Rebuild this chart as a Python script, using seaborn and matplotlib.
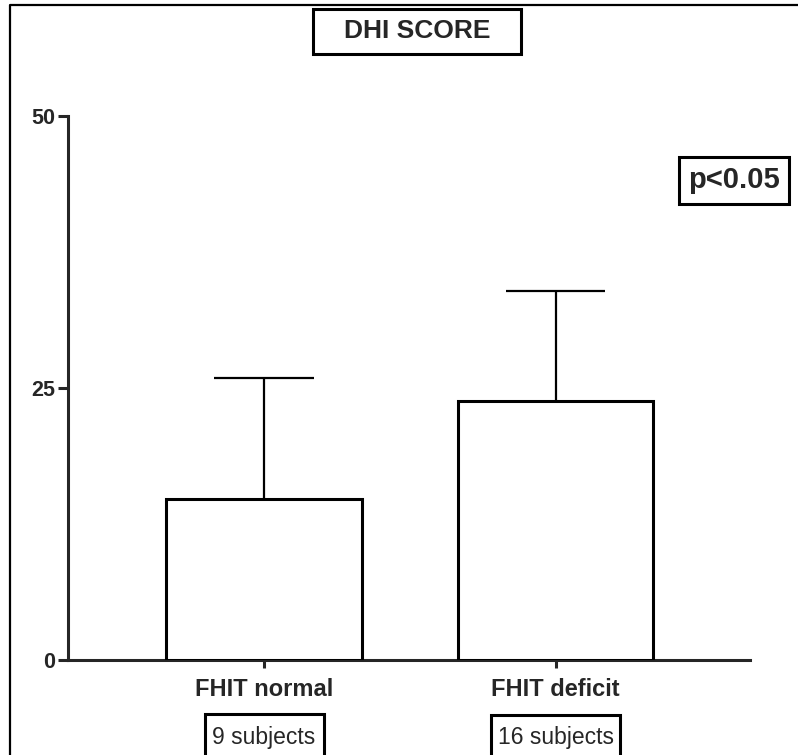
import matplotlib.pyplot as plt
import seaborn as sns
from matplotlib.patches import Rectangle
from matplotlib.lines import Line2D

# -----------------------------------------
# Data
# -----------------------------------------
groups = ["FHIT normal", "FHIT deficit"]
mean_dhi = [14.8, 23.8]
sd_dhi = [11.1, 10.1]
subjects = ["9 subjects", "16 subjects"]
y_ticks = [0, 25, 50]
p_text = "p<0.05"
title = "DHI SCORE"

W, H = 798, 755

sns.set_style("ticks")
plt.rcParams['font.family'] = ['Liberation Sans', 'DejaVu Sans']

fig = plt.figure(figsize=(W / 100, H / 100), dpi=100)
ax = fig.add_axes([68 / W, 95 / H, 682 / W, 544 / H])

# -----------------------------------------
# Bars + upper SD whiskers
# -----------------------------------------
sns.barplot(x=groups, y=mean_dhi, color="white", edgecolor="black",
            linewidth=2.2, width=0.672, errorbar=None, ax=ax, zorder=3)
for bar in ax.patches:
    bar.set_facecolor("white")

xpos = list(range(len(groups)))
tops = [m + s for m, s in zip(mean_dhi, sd_dhi)]
ax.vlines(xpos, mean_dhi, tops, color="black", lw=1.6, zorder=2)
ax.hlines(tops, [x - 0.17 for x in xpos], [x + 0.17 for x in xpos],
          color="black", lw=1.6, zorder=2)

ax.set_xlim(-0.672, 1.667)
ax.set_ylim(0, 50)
ax.set_yticks(y_ticks)
ax.set_xticks(xpos)
ax.set_xticklabels(groups, fontsize=17, fontweight="bold")
ax.set_yticklabels([str(t) for t in y_ticks], fontsize=15.5, fontweight="bold")
ax.tick_params(axis="y", length=7, width=2.2, pad=2)
ax.tick_params(axis="x", length=6, width=2.2, pad=7)
ax.set_xlabel("")
ax.set_ylabel("")
sns.despine(ax=ax)
for side in ["left", "bottom"]:
    ax.spines[side].set_linewidth(2.2)
ax.spines["left"].set_capstyle("projecting")


# -----------------------------------------
# Boxed annotations (pixel coords -> figure fraction)
# -----------------------------------------
def boxed_text(x0, y0, x1, y1, text, size, weight):
    fig.patches.append(Rectangle((x0 / W, 1 - y1 / H), (x1 - x0) / W, (y1 - y0) / H,
                                 transform=fig.transFigure, fill=False,
                                 edgecolor="black", lw=2.2))
    fig.text((x0 + x1) / 2 / W, 1 - (y0 + y1) / 2 / H, text, ha="center",
             va="center", fontsize=size, fontweight=weight)


boxed_text(313, 9, 521, 54, title, 19, "bold")
boxed_text(679, 157, 789, 204, p_text, 21, "bold")
boxed_text(205, 714, 324, 770, "", 16, "normal")
boxed_text(491, 715, 620, 770, "", 16, "normal")
for x, s in zip(xpos, subjects):
    ax.text(x, -0.142, s, transform=ax.get_xaxis_transform(), ha="center",
            va="center", fontsize=16.5, clip_on=False)

# outer frame (left and top edges visible in the reference)
fig.lines.append(Line2D([10 / W, 10 / W, 1], [0, 1 - 5 / H, 1 - 5 / H],
                        transform=fig.transFigure, color="black", lw=1.6))

fig.savefig("out.png", dpi=100)
